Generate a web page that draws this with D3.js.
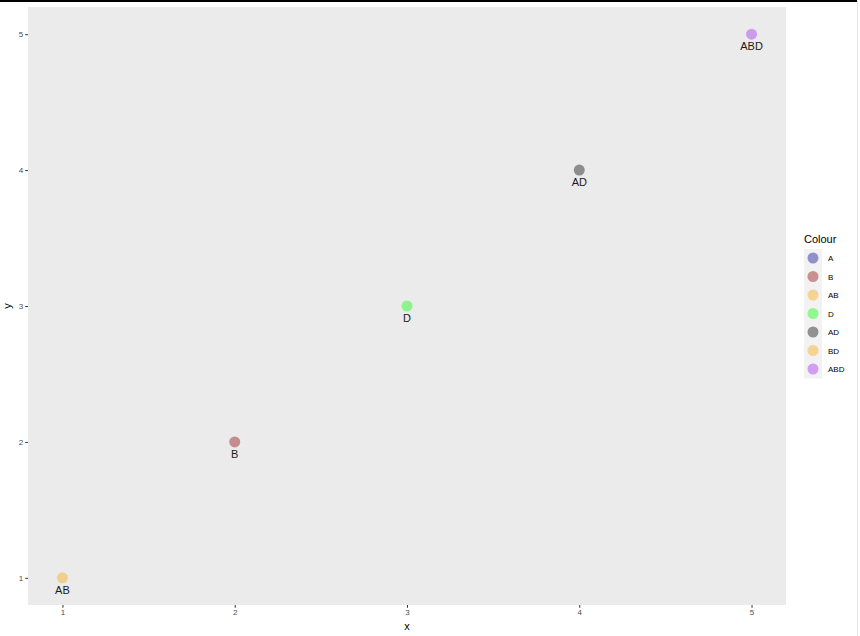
<!DOCTYPE html>
<html>
<head>
<meta charset="utf-8">
<script src="https://cdn.jsdelivr.net/npm/d3@7"></script>
<style>
  body { margin: 0; background: #fff; }
  text { font-family: "Liberation Sans", Arial, sans-serif; }
</style>
</head>
<body>
<div id="chart"></div>
<script>
// data
var labels = ["AB", "B", "D", "AD", "ABD"];
var xValues = [1, 2, 3, 4, 5];
var yValues = [1, 2, 3, 4, 5];
var xTicks = [1, 2, 3, 4, 5];
var yTicks = [1, 2, 3, 4, 5];
var legendKeys = ["A", "B", "AB", "D", "AD", "BD", "ABD"];
var legendColors = ["#00008B", "#8B0000", "#FFA500", "#00FF00", "#000000", "#FFA500", "#A020F0"];

var svgWidth = 860;
var svgHeight = 636;

var margin = { top: 7, right: 74, bottom: 31, left: 28 };
var chartWidth = svgWidth - margin.left - margin.right;
var chartHeight = svgHeight - margin.top - margin.bottom;

var svg = d3.select("#chart")
  .append("svg")
  .attr("width", svgWidth)
  .attr("height", svgHeight);

// frame lines at the edge of the image
svg.append("line")
  .attr("x1", 0).attr("x2", 857).attr("y1", 1).attr("y2", 1)
  .attr("stroke", "#000").attr("stroke-width", 2);
svg.append("line")
  .attr("x1", 857.5).attr("x2", 857.5).attr("y1", 0).attr("y2", svgHeight)
  .attr("stroke", "#e4e4e4").attr("stroke-width", 1);

var chartGroup = svg.append("g")
  .attr("transform", `translate(${margin.left}, ${margin.top})`);

var xScale = d3.scaleLinear().domain([0.8, 5.2]).range([0, chartWidth]);
var yScale = d3.scaleLinear().domain([0.8, 5.2]).range([chartHeight, 0]);

chartGroup.append("rect")
  .attr("width", chartWidth)
  .attr("height", chartHeight)
  .attr("fill", "#EBEBEB");

// axes
var bottomAxis = d3.axisBottom(xScale).tickValues(xTicks).tickFormat(d3.format("d"))
  .tickSize(2.75).tickPadding(2);
var leftAxis = d3.axisLeft(yScale).tickValues(yTicks).tickFormat(d3.format("d"))
  .tickSize(2.75).tickPadding(2);

var gx = chartGroup.append("g")
  .attr("transform", `translate(0, ${chartHeight})`)
  .call(bottomAxis);
var gy = chartGroup.append("g").call(leftAxis);

[gx, gy].forEach(function(g) {
  g.select(".domain").remove();
  g.selectAll(".tick line").attr("stroke", "#333").attr("stroke-width", 1);
  g.selectAll(".tick text")
    .attr("fill", "#4D4D4D")
    .style("font-size", "8px")
    .style("font-family", "Liberation Sans, Arial, sans-serif");
});

// axis titles
svg.append("text")
  .attr("x", margin.left + chartWidth / 2)
  .attr("y", 630)
  .attr("text-anchor", "middle")
  .style("font-size", "11px")
  .attr("fill", "#000")
  .text("x");
svg.append("text")
  .attr("transform", `translate(11, ${margin.top + chartHeight / 2}) rotate(-90)`)
  .attr("text-anchor", "middle")
  .style("font-size", "11px")
  .attr("fill", "#000")
  .text("y");

// points
var pointColor = function(d, i) {
  return legendColors[legendKeys.indexOf(labels[i])];
};

chartGroup.selectAll("circle.pt")
  .data(labels)
  .enter()
  .append("circle")
  .attr("class", "pt")
  .attr("cx", function(d, i) { return xScale(xValues[i]); })
  .attr("cy", function(d, i) { return yScale(yValues[i]); })
  .attr("r", 5.5)
  .attr("fill", pointColor)
  .attr("fill-opacity", 0.4);

chartGroup.selectAll("text.pt-label")
  .data(labels)
  .enter()
  .append("text")
  .attr("class", "pt-label")
  .attr("x", function(d, i) { return xScale(xValues[i]); })
  .attr("y", function(d, i) { return yScale(yValues[i]) + 16; })
  .attr("text-anchor", "middle")
  .style("font-size", "11px")
  .attr("fill", "#1A1A1A")
  .text(function(d) { return d; });

// legend
var legend = svg.append("g").attr("transform", "translate(804, 0)");
legend.append("text")
  .attr("x", 0)
  .attr("y", 243)
  .style("font-size", "11px")
  .attr("fill", "#000")
  .text("Colour");

var keyStep = 18.5;
legend.append("rect")
  .attr("x", 0).attr("y", 249)
  .attr("width", 18).attr("height", keyStep * legendKeys.length)
  .attr("fill", "#F2F2F2");

var keys = legend.selectAll("g.key")
  .data(legendKeys)
  .enter()
  .append("g")
  .attr("class", "key")
  .attr("transform", function(d, i) { return `translate(0, ${258 + i * keyStep})`; });

keys.append("circle")
  .attr("cx", 9).attr("cy", 0).attr("r", 5.5)
  .attr("fill", function(d, i) { return legendColors[i]; })
  .attr("fill-opacity", 0.4);

keys.append("text")
  .attr("x", 24).attr("y", 3)
  .style("font-size", "8px")
  .attr("fill", "#000")
  .text(function(d) { return d; });
</script>
</body>
</html>
